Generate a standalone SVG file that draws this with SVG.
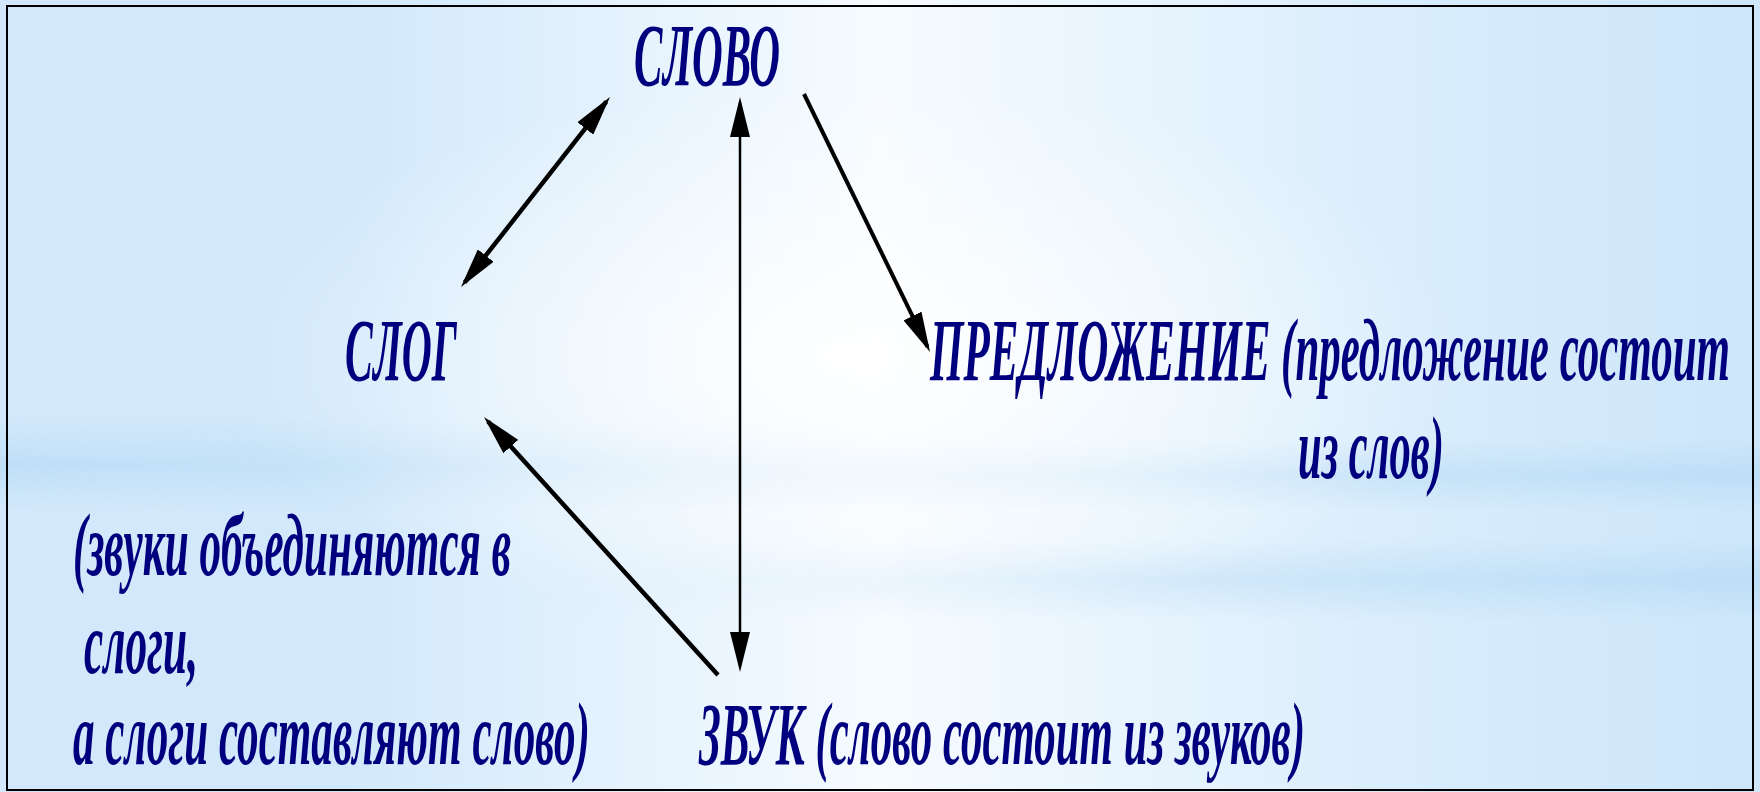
<svg xmlns="http://www.w3.org/2000/svg" width="1760" height="792" viewBox="0 0 1760 792">
  <defs>
    <linearGradient id="bgH" x1="0" y1="0" x2="1" y2="0">
      <stop offset="0" stop-color="#d3e9fb"/>
      <stop offset="0.2" stop-color="#d2e9fb"/>
      <stop offset="0.5" stop-color="#f6fbff"/>
      <stop offset="0.8" stop-color="#d9edfc"/>
      <stop offset="1" stop-color="#cde6fa"/>
    </linearGradient>
    <radialGradient id="glow" cx="0.48" cy="0.45" r="0.35">
      <stop offset="0" stop-color="#ffffff" stop-opacity="0.9"/>
      <stop offset="1" stop-color="#ffffff" stop-opacity="0"/>
    </radialGradient>
    <linearGradient id="bandL" x1="0" y1="0" x2="1" y2="0">
      <stop offset="0" stop-color="#b9dcf6" stop-opacity="0.8"/>
      <stop offset="0.6" stop-color="#b9dcf6" stop-opacity="0"/>
    </linearGradient>
    <linearGradient id="bandR" x1="0" y1="0" x2="1" y2="0">
      <stop offset="0.3" stop-color="#b9dcf6" stop-opacity="0"/>
      <stop offset="1" stop-color="#b9dcf6" stop-opacity="0.8"/>
    </linearGradient>
    <linearGradient id="bandV" x1="0" y1="0" x2="0" y2="1">
      <stop offset="0" stop-color="#fff" stop-opacity="0"/>
      <stop offset="0.5" stop-color="#fff" stop-opacity="1"/>
      <stop offset="1" stop-color="#fff" stop-opacity="0"/>
    </linearGradient>
    <mask id="mv" maskContentUnits="objectBoundingBox">
      <rect x="0" y="0" width="1" height="1" fill="url(#bandV)"/>
    </mask>
    <marker id="ah" markerUnits="userSpaceOnUse" markerWidth="40" markerHeight="20" viewBox="0 0 40 20" refX="34" refY="10" orient="auto-start-reverse">
      <path d="M0,0 L40,10 L0,20 z" fill="#000"/>
    </marker>
    <style>
      .t { font-family: "Liberation Serif", "DejaVu Serif", serif; font-style: italic; font-weight: bold; font-size: 47px; fill: #00007f; }
      .t.s { font-size: 38px; }
      .c { stroke: #000; fill: none; }
    </style>
  </defs>

  <g id="background">
    <rect x="0" y="0" width="1760" height="792" fill="url(#bgH)"/>
    <rect x="0" y="420" width="1760" height="90" fill="url(#bandL)" mask="url(#mv)"/>
    <rect x="0" y="440" width="1760" height="70" fill="url(#bandR)" mask="url(#mv)"/>
    <rect x="0" y="540" width="1760" height="80" fill="url(#bandR)" mask="url(#mv)"/>
    <rect x="0" y="0" width="1760" height="792" fill="url(#glow)"/>
    <rect x="7" y="6" width="1746" height="784" fill="none" stroke="#000" stroke-width="2"/>
  </g>

  <g id="connectors">
    <line class="c" x1="606.3" y1="101.7" x2="464.7" y2="282.3" stroke-width="4.5" marker-start="url(#ah)" marker-end="url(#ah)"/>
    <line class="c" x1="740" y1="103" x2="740" y2="666" stroke-width="2.5" marker-start="url(#ah)" marker-end="url(#ah)"/>
    <line class="c" x1="804" y1="94" x2="927.4" y2="346.6" stroke-width="4" marker-end="url(#ah)"/>
    <line class="c" x1="718" y1="675" x2="488" y2="421.4" stroke-width="4.5" marker-end="url(#ah)"/>
  </g>

  <g id="node-slovo">
    <text class="t" transform="translate(634,85) scale(1,1.9)" x="0" y="0" textLength="146" lengthAdjust="spacingAndGlyphs">СЛОВО</text>
  </g>
  <g id="node-slog">
    <text class="t" transform="translate(345,380) scale(1,1.9)" x="0" y="0" textLength="112" lengthAdjust="spacingAndGlyphs">СЛОГ</text>
  </g>
  <g id="node-predlozhenie">
    <text class="t s" transform="translate(930,380) scale(1,2.35)" x="0" y="0" textLength="800" lengthAdjust="spacingAndGlyphs">ПРЕДЛОЖЕНИЕ (предложение состоит</text>
    <text class="t" transform="translate(1298,478) scale(1,1.9)" x="0" y="0" textLength="146" lengthAdjust="spacingAndGlyphs">из слов)</text>
  </g>
  <g id="node-zvuk">
    <text class="t" transform="translate(699,764) scale(1,1.9)" x="0" y="0" textLength="606" lengthAdjust="spacingAndGlyphs">ЗВУК (слово состоит из звуков)</text>
  </g>
  <g id="note-slogi">
    <text class="t" transform="translate(73,575) scale(1,1.9)" x="0" y="0" textLength="438" lengthAdjust="spacingAndGlyphs">(звуки объединяются в</text>
    <text class="t" transform="translate(84,673) scale(1,1.9)" x="0" y="0" textLength="114" lengthAdjust="spacingAndGlyphs">слоги,</text>
    <text class="t" transform="translate(73,764) scale(1,1.9)" x="0" y="0" textLength="517" lengthAdjust="spacingAndGlyphs">а слоги составляют слово)</text>
  </g>
</svg>
